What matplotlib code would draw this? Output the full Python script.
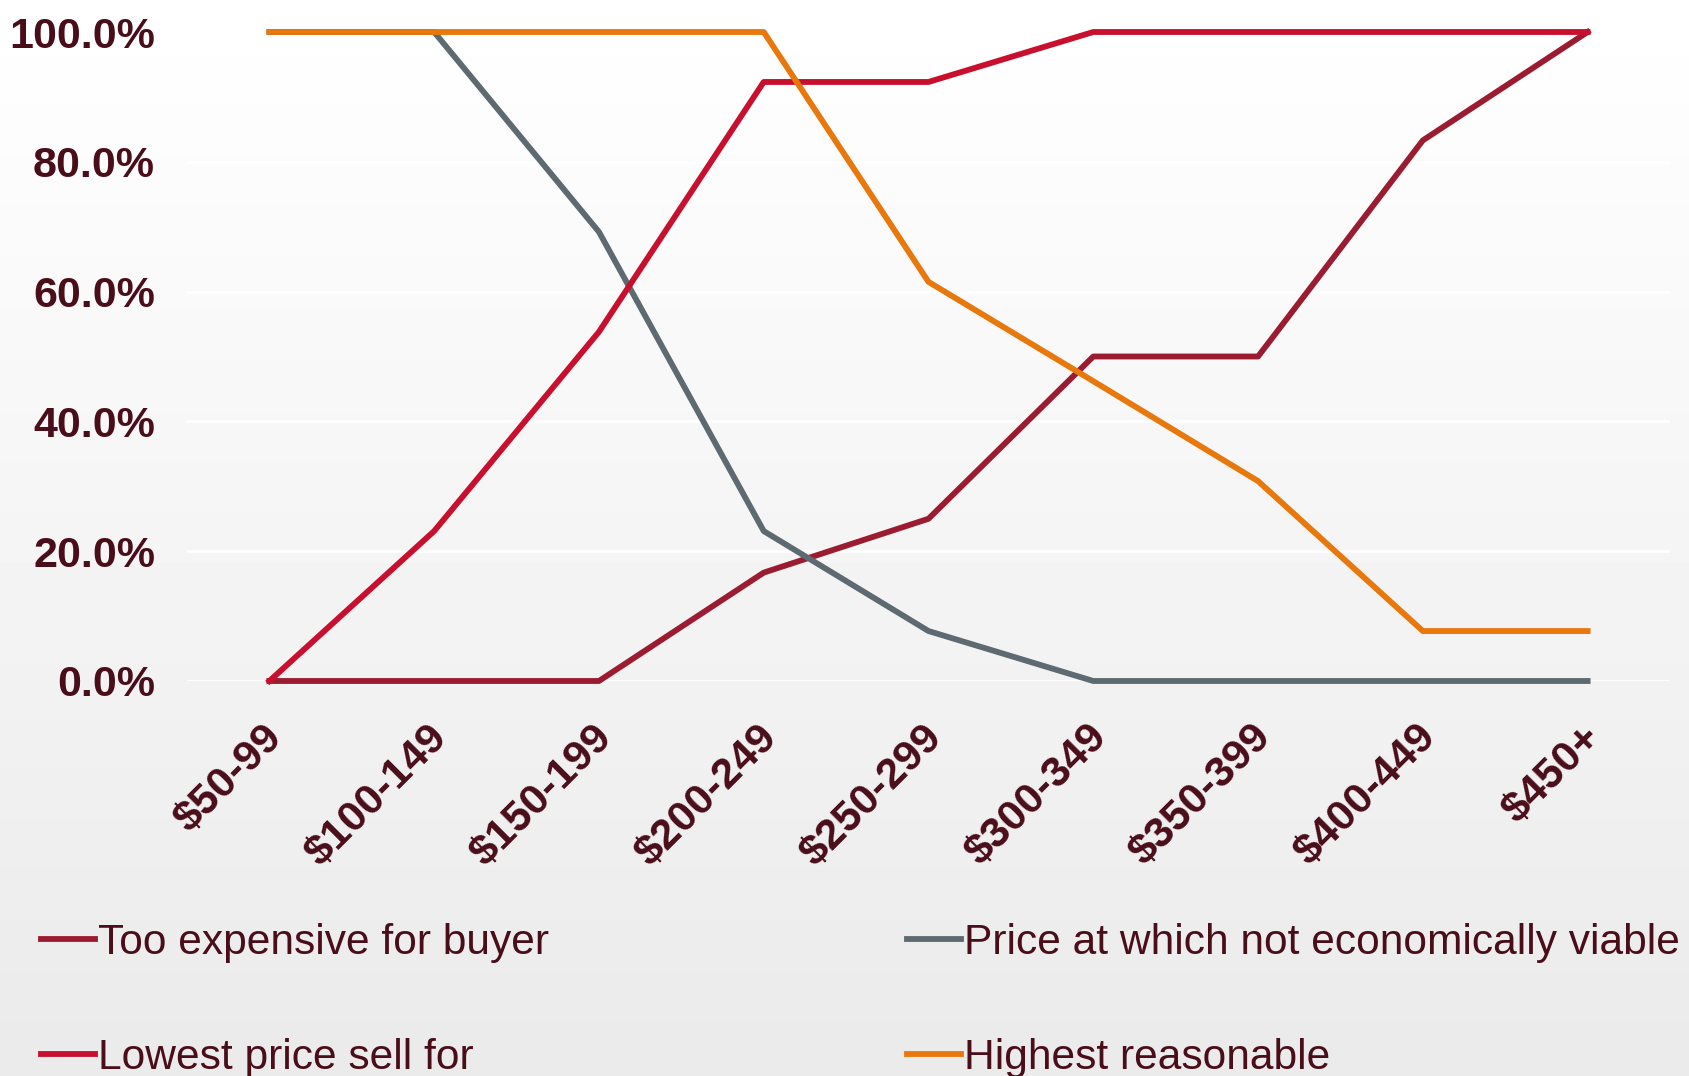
import matplotlib.pyplot as plt
import matplotlib.transforms as mtransforms
import numpy as np

# price bands on the x axis
price_bands = ['$50-99', '$100-149', '$150-199', '$200-249', '$250-299',
               '$300-349', '$350-399', '$400-449', '$450+']

# share of respondents (%)
too_expensive = [0.0, 0.0, 0.0, 16.7, 25.0, 50.0, 50.0, 83.3, 100.0]
not_viable = [100.0, 100.0, 69.2, 23.1, 7.7, 0.0, 0.0, 0.0, 0.0]
lowest_price = [0.0, 23.1, 53.8, 92.3, 92.3, 100.0, 100.0, 100.0, 100.0]
highest_reasonable = [100.0, 100.0, 100.0, 100.0, 61.5, 46.2, 30.8, 7.7, 7.7]

y_ticks = [0, 20, 40, 60, 80, 100]

TEXT_COL = '#4A0D1A'

fig = plt.figure(figsize=(16.89, 10.76), dpi=100)

# gradient background, white at the top to light grey at the bottom
bg = fig.add_axes([0, 0, 1, 1], zorder=-10)
grad = np.linspace(1.0, 0.918, 256).reshape(-1, 1)
bg.imshow(grad, cmap='gray', vmin=0, vmax=1, aspect='auto', extent=[0, 1, 0, 1])
bg.axis('off')

W, H = 1689, 1076
ax = fig.add_axes([187 / W, 1 - 681 / H, (1670 - 187) / W, (681 - 32) / H])
ax.patch.set_alpha(0)

x = np.arange(len(price_bands))
lw = 4.2
l1, = ax.plot(x, too_expensive, color='#9B1C31', lw=lw, label='Too expensive for buyer', clip_on=False, zorder=3)
l2, = ax.plot(x, not_viable, color='#5E6A71', lw=lw, label='Price at which not economically viable', clip_on=False, zorder=3)
l3, = ax.plot(x, lowest_price, color='#C8102E', lw=lw, label='Lowest price sell for', clip_on=False, zorder=3)
l4, = ax.plot(x, highest_reasonable, color='#E8780C', lw=lw, label='Highest reasonable', clip_on=False, zorder=3)

ax.set_xlim(-0.5, 8.5)
ax.set_ylim(0, 100)
ax.set_yticks(y_ticks)
ax.set_yticklabels(['%.1f%%' % v for v in y_ticks])
ax.grid(axis='y', color='white', lw=2, zorder=0)
ax.set_axisbelow(True)
for s in ax.spines.values():
    s.set_visible(False)
ax.tick_params(length=0)
ax.tick_params(axis='y', pad=23)

ax.set_xticks(x)
ax.set_xticklabels(price_bands, rotation=45, ha='right', va='top', rotation_mode='anchor')
ax.tick_params(axis='x', pad=26)
offset = mtransforms.ScaledTranslation(-7 / 100, 0, fig.dpi_scale_trans)
for lab in ax.get_xticklabels():
    lab.set_transform(lab.get_transform() + offset)

for lab in ax.get_xticklabels() + ax.get_yticklabels():
    lab.set_fontfamily(['Liberation Sans', 'DejaVu Sans'])
    lab.set_fontweight('bold')
    lab.set_fontsize(31)
    lab.set_color(TEXT_COL)

# two legend columns, placed separately
leg_font = {'family': ['Liberation Sans', 'DejaVu Sans'], 'size': 30.6}
for handles, xpos in [([l1, l3], 41), ([l2, l4], 907)]:
    leg = fig.legend(handles=handles, loc='upper left',
                     bbox_to_anchor=(xpos / W, 1 - 923 / H),
                     frameon=False, handlelength=1.27, handletextpad=0.08,
                     labelspacing=1.76, borderaxespad=0, borderpad=0,
                     prop=leg_font)
    for t in leg.get_texts():
        t.set_color(TEXT_COL)

fig.savefig('out.png', dpi=100)
